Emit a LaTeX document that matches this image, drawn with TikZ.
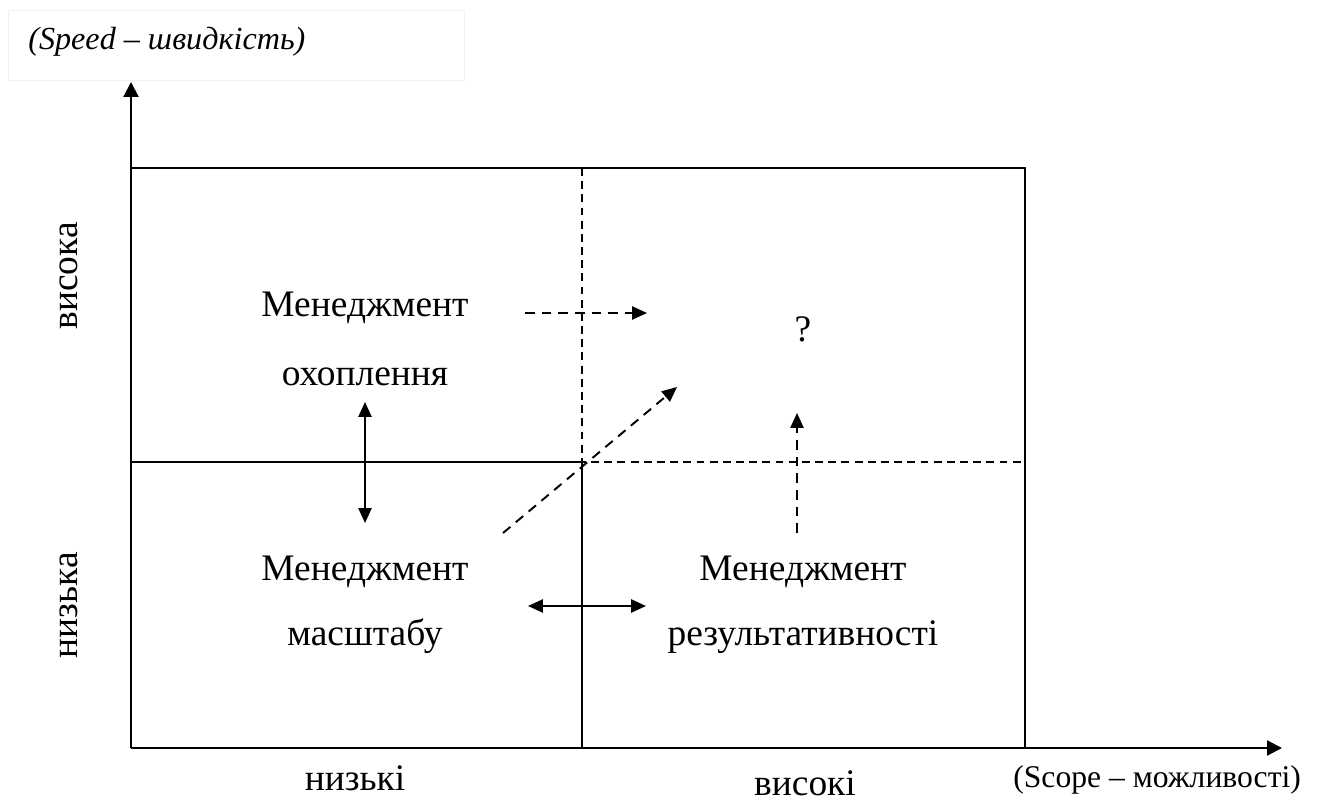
\documentclass[tikz,border=0pt]{standalone}
\usepackage{fontspec}
\setmainfont{Liberation Serif}
\usetikzlibrary{arrows.meta}
\begin{document}
\begin{tikzpicture}[x=0.02cm,y=-0.02cm,
  axis/.style={line width=1.2pt,-{Triangle[length=8.5pt,width=8.5pt]}},
  frame/.style={line width=0.9pt},
  dashline/.style={line width=0.8pt,dash pattern=on 4.5pt off 3pt},
  dasharrow/.style={line width=1.1pt,dash pattern=on 5.5pt off 4pt,-{Triangle[length=8.5pt,width=7.5pt]}},
  bothways/.style={line width=1.1pt,{Triangle[length=8.5pt,width=7.5pt]}-{Triangle[length=8.5pt,width=7.5pt]}},
  quad/.style={font=\fontsize{21.3}{25}\selectfont,anchor=base,inner sep=0pt},
  axtext/.style={font=\fontsize{18}{21}\selectfont,anchor=base,inner sep=0pt}]
\useasboundingbox (0,0) rectangle (1317,803);
% axes
\coordinate (O) at (131,748);
\coordinate (ytop) at (131,82);
\coordinate (xend) at (1282,748);
\draw[axis](O)--(ytop);
\draw[axis](O)--(xend);
% frame and quarters
\coordinate (tl) at (131,168);\coordinate (tr) at (1025,168);\coordinate (br) at (1025,748);
\coordinate (ml) at (131,462);\coordinate (c) at (582,462);\coordinate (mr) at (1025,462);
\coordinate (mt) at (582,168);\coordinate (mb) at (582,748);
\draw[frame](tl)--(tr)--(br)(ml)--(c)--(mb);
\draw[dashline](mt)--(c)--(mr);
% axis labels
\draw[gray!12] (8,10) rectangle (464,80);
\node[axtext,anchor=base west,font=\fontsize{18.3}{21}\selectfont\itshape] (speed) at (28,50) {(Speed – швидкість)};
\node[axtext,anchor=base west] (scope) at (1013,787) {(Scope – можливості)};
\node[quad,rotate=90] (hi) at (77,276) {висока};
\node[quad,rotate=90] (lo) at (77,605) {низька};
\node[quad] (xlo) at (355,790) {низькі};
\node[quad] (xhi) at (805,795) {високі};
% quadrants
\node[quad] (cov1) at (365,317) {Менеджмент};
\node[quad] (cov2) at (365,385) {охоплення};
\node[quad] (sc1) at (365,580) {Менеджмент};
\node[quad] (sc2) at (365,645) {масштабу};
\node[quad] (ef1) at (803,580) {Менеджмент};
\node[quad] (ef2) at (803,645) {результативності};
\node[quad] (q) at (803,342) {?};
% moves
\coordinate (a1) at (525,313);\coordinate (a2) at (647,313);
\coordinate (d1) at (503,533);\coordinate (d2) at (677,387);
\coordinate (u1) at (797,533);\coordinate (u2) at (797,413);
\coordinate (v1) at (365,402);\coordinate (v2) at (365,523);
\coordinate (h1) at (528,606);\coordinate (h2) at (646,606);
\draw[dasharrow](a1)--(a2);
\draw[dasharrow](d1)--(d2);
\draw[dasharrow](u1)--(u2);
\draw[bothways](v1)--(v2);
\draw[bothways](h1)--(h2);
\end{tikzpicture}
\end{document}
